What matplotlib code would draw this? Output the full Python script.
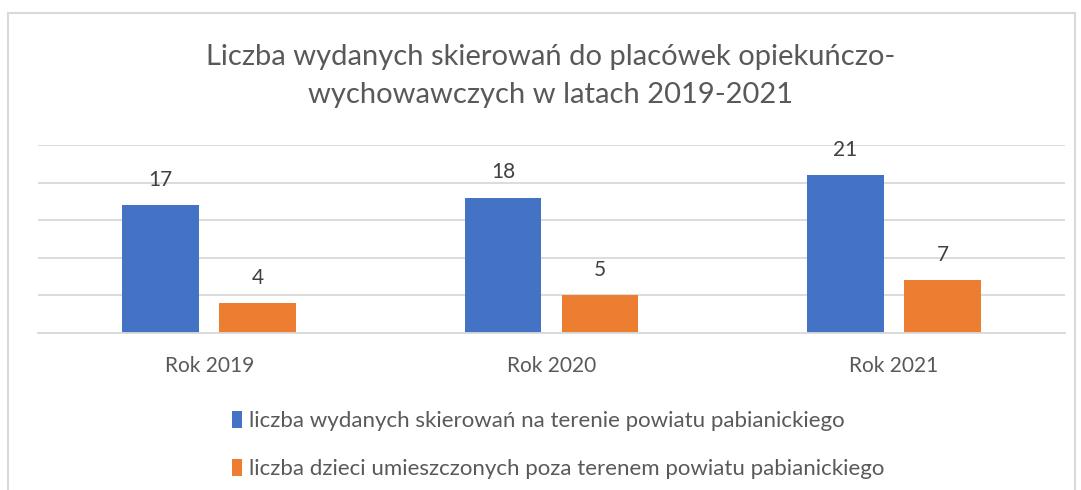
import numpy as np
import matplotlib.pyplot as plt
from matplotlib.patches import Rectangle

categories = ['Rok 2019', 'Rok 2020', 'Rok 2021']
skierowania = [17, 18, 21]
poza_powiatem = [4, 5, 7]
series_names = ['liczba wydanych skierowań na terenie powiatu pabianickiego',
                 'liczba dzieci umieszczonych poza terenem powiatu pabianickiego']
colors = ['#4472C4', '#ED7D31']
title = 'Liczba wydanych skierowań do placówek opiekuńczo-\nwychowawczych w latach 2019-2021'

plt.rcParams['font.family'] = ['Lato', 'DejaVu Sans']
txt = '#595959'

fig = plt.figure(figsize=(10.81, 4.9), dpi=100)
# chart frame like excel
fig.patches.append(Rectangle((8/1081, -0.1), 1067/1081, 1.1 - 13/490, transform=fig.transFigure,
                             fill=False, edgecolor='#d9d9d9', linewidth=1.5))

ax = fig.add_axes([38/1081, 1-333/490, (1065-38)/1081, (333-145)/490])
x = np.arange(len(categories))
w = 0.224
off = 0.142
b1 = ax.bar(x - off, skierowania, w, color=colors[0], label=series_names[0])
b2 = ax.bar(x + off, poza_powiatem, w, color=colors[1], label=series_names[1])

for bars, vals in [(b1, skierowania), (b2, poza_powiatem)]:
    for r, v in zip(bars, vals):
        ax.annotate(str(v), (r.get_x() + r.get_width()/2, v), xytext=(0, 11),
                    textcoords='offset points', ha='center', va='bottom',
                    fontsize=15, color='#404040')

ax.set_xlim(-0.5, 2.5)
ax.set_ylim(0, 25)
ax.set_yticks(np.arange(0, 26, 5))
ax.yaxis.grid(True, color='#d9d9d9', linewidth=1.3)
ax.set_axisbelow(True)
ax.tick_params(axis='y', left=False, labelleft=False)
ax.tick_params(axis='x', bottom=False, labelsize=15, labelcolor=txt, pad=13)
ax.set_xticks(x)
ax.set_xticklabels(categories)
for s in ['top', 'right', 'left']:
    ax.spines[s].set_visible(False)
ax.spines['bottom'].set_color('#d9d9d9')
ax.spines['bottom'].set_linewidth(1.3)

fig.text(0.509, 1 - 76/490, title, ha='center', va='center', fontsize=21,
         color=txt, linespacing=1.55)

fig.legend(handles=[b1, b2], loc='upper left', bbox_to_anchor=(212/1081, 1 - 391/490),
           ncol=1, frameon=False, fontsize=16, labelcolor=txt, handlelength=0.45,
           handleheight=0.8, handletextpad=0.3, labelspacing=1.25)

fig.savefig('out.png', dpi=100)
